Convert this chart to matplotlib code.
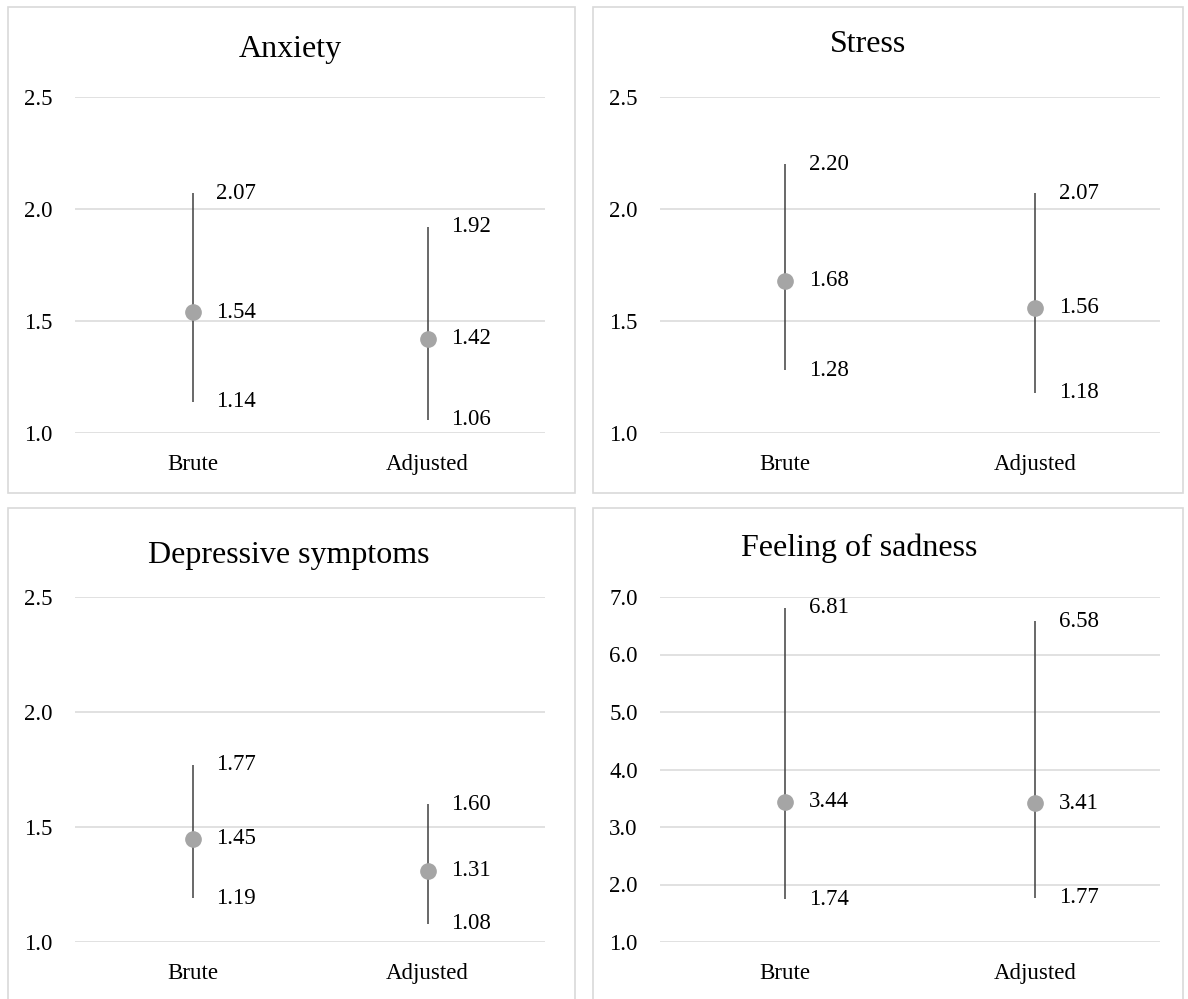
import matplotlib
matplotlib.use("Agg")
import matplotlib.pyplot as plt
from matplotlib.patches import Rectangle

plt.rcParams["font.family"] = ["Liberation Serif", "DejaVu Serif"]

categories = ["Brute", "Adjusted"]
titles = ["Anxiety", "Stress", "Depressive symptoms", "Feeling of sadness"]
mid = [[1.54, 1.42], [1.68, 1.56], [1.45, 1.31], [3.44, 3.41]]
low = [[1.14, 1.06], [1.28, 1.18], [1.19, 1.08], [1.74, 1.77]]
high = [[2.07, 1.92], [2.20, 2.07], [1.77, 1.60], [6.81, 6.58]]
yticks = [[1.0, 1.5, 2.0, 2.5]] * 3 + [[1.0, 2.0, 3.0, 4.0, 5.0, 6.0, 7.0]]

W, H = 1188, 999
fig = plt.figure(figsize=(W / 100, H / 100), dpi=100)

# pixel boxes (left, top, right, bottom)
panels = [(8, 7, 575, 493), (593, 7, 1183, 493), (8, 508, 575, 1005), (593, 508, 1183, 1005)]
axboxes = [(75, 97, 545, 433), (660, 97, 1160, 433), (75, 597, 545, 942), (660, 597, 1160, 942)]
title_pos = [(290, 50), (868, 45), (289, 555), (859, 548)]

grid_c = "#d9d9d9"
fs = 16.5

for i in range(4):
    l, t, r, b = panels[i]
    fig.patches.append(Rectangle((l / W, 1 - b / H), (r - l) / W, (b - t) / H,
                                 transform=fig.transFigure, fill=False,
                                 edgecolor=grid_c, linewidth=1.2))
    l, t, r, b = axboxes[i]
    ax = fig.add_axes([l / W, 1 - b / H, (r - l) / W, (b - t) / H])
    ticks = yticks[i]
    ax.set_ylim(ticks[0], ticks[-1])
    ax.set_xlim(-0.5, 1.5)
    ax.set_yticks(ticks)
    ax.set_yticklabels([f"{v:.1f}" for v in ticks], fontsize=fs)
    ax.set_xticks([0, 1])
    ax.set_xticklabels(categories, fontsize=fs)
    ax.tick_params(length=0, axis="y", pad=16)
    ax.tick_params(length=0, axis="x", pad=15)
    for s in ax.spines.values():
        s.set_visible(False)
    for v in ticks:
        ax.axhline(v, color=grid_c, lw=1.1, zorder=0)
    for j in range(2):
        ax.vlines(j, low[i][j], high[i][j], color="#404040", lw=1.1, zorder=2)
        ax.plot(j, mid[i][j], "o", ms=11, color="#a5a5a5", zorder=3)
        for v in (low[i][j], mid[i][j], high[i][j]):
            ax.annotate(f"{v:.2f}", (j, v), xytext=(17, 0), textcoords="offset points",
                        va="center", ha="left", fontsize=fs)
    tx, ty = title_pos[i]
    fig.text(tx / W, 1 - ty / H, titles[i], ha="center", va="center", fontsize=23)

fig.savefig("out.png", dpi=100)
